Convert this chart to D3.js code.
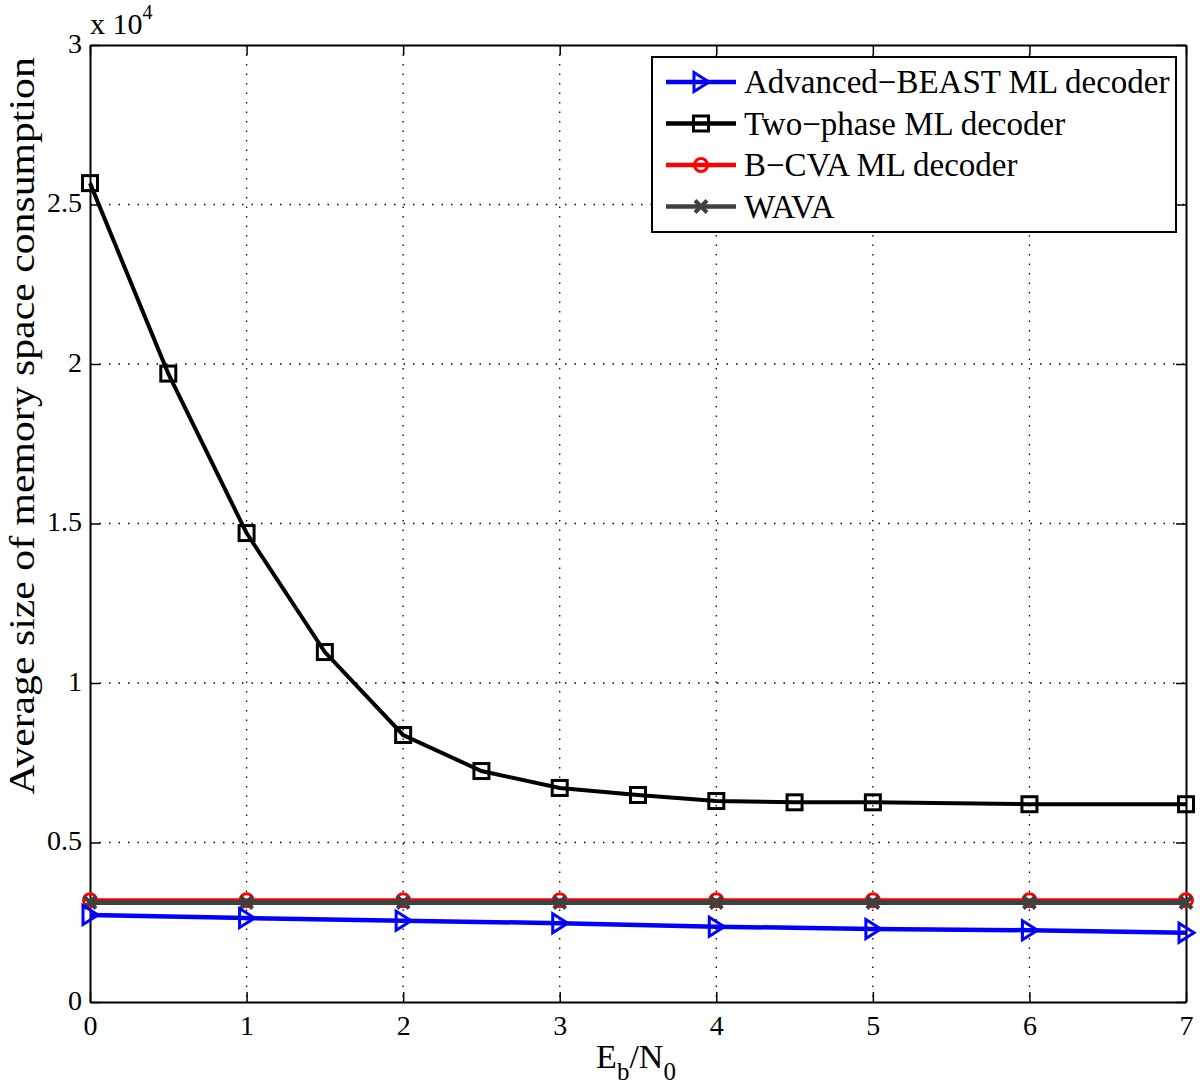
<!DOCTYPE html>
<html>
<head>
<meta charset="utf-8">
<script src="https://cdn.jsdelivr.net/npm/d3@7"></script>
<style>
  body { margin: 0; background: #fff; }
  svg { font-family: "Liberation Serif", "Times New Roman", serif; }
</style>
</head>
<body>
<svg id="chart" width="1200" height="1085"></svg>
<script>
// data
const twoPhaseX = [0, 0.5, 1, 1.5, 2, 2.5, 3, 3.5, 4, 4.5, 5, 6, 7];
const twoPhaseY = [25670, 19700, 14700, 10970, 8370, 7240, 6710, 6490, 6300, 6260, 6260, 6200, 6200];
const intX = [0, 1, 2, 3, 4, 5, 6, 7];
const beastY = [2730, 2630, 2550, 2470, 2360, 2290, 2250, 2170];
const bcvaY = [3190, 3190, 3190, 3190, 3190, 3190, 3190, 3190];
const wavaY = [3120, 3120, 3120, 3120, 3120, 3120, 3120, 3120];
const xTicks = [0, 1, 2, 3, 4, 5, 6, 7];
const yTicks = [0, 5000, 10000, 15000, 20000, 25000, 30000];
const yTickLabels = ["0", "0.5", "1", "1.5", "2", "2.5", "3"];

const margin = { top: 45, left: 90 };
const width = 1096, height = 957;

const svg = d3.select("#chart");
const g = svg.append("g").attr("transform", "translate(" + margin.left + "," + margin.top + ")");

const x = d3.scaleLinear().domain([0, 7]).range([0, width]);
const y = d3.scaleLinear().domain([0, 30000]).range([height, 0]);

// grid
g.append("g").selectAll("line").data(xTicks.slice(1, -1)).join("line")
    .attr("x1", d => x(d)).attr("x2", d => x(d)).attr("y1", 0).attr("y2", height)
    .attr("stroke", "#000").attr("stroke-width", 1.3).attr("stroke-dasharray", "1.5,8");
g.append("g").selectAll("line").data(yTicks.slice(1, -1)).join("line")
    .attr("y1", d => y(d)).attr("y2", d => y(d)).attr("x1", 0).attr("x2", width)
    .attr("stroke", "#000").attr("stroke-width", 1.3).attr("stroke-dasharray", "1.5,8");

// axes, MATLAB style box with inward ticks
const xAxis = g.append("g").attr("transform", "translate(0," + height + ")")
    .call(d3.axisBottom(x).tickValues(xTicks).tickSizeInner(-10).tickSizeOuter(0)
        .tickFormat(d3.format("d")));
const xTop = g.append("g")
    .call(d3.axisTop(x).tickValues(xTicks).tickSizeInner(-10).tickSizeOuter(0).tickFormat(""));
const yAxis = g.append("g")
    .call(d3.axisLeft(y).tickValues(yTicks).tickSizeInner(-10).tickSizeOuter(0)
        .tickFormat((d, i) => yTickLabels[i]));
const yRight = g.append("g").attr("transform", "translate(" + width + ",0)")
    .call(d3.axisRight(y).tickValues(yTicks).tickSizeInner(-10).tickSizeOuter(0).tickFormat(""));
[xAxis, xTop, yAxis, yRight].forEach(a => {
    a.selectAll("path").attr("stroke", "#000").attr("stroke-width", 2);
    a.selectAll("line").attr("stroke", "#000").attr("stroke-width", 1.5);
    a.selectAll("text").attr("font-size", 28).attr("fill", "#000")
        .attr("font-family", "Liberation Serif");
});
xAxis.selectAll("text").attr("y", 33).attr("dy", 0);
yAxis.selectAll("text").attr("x", -8).attr("dy", 7);

// series
const line = d3.line().x(d => x(d[0])).y(d => y(d[1]));
function drawSeries(xs, ys, color, w) {
    const pts = xs.map((v, i) => [v, ys[i]]);
    g.append("path").datum(pts).attr("d", line)
        .attr("fill", "none").attr("stroke", color).attr("stroke-width", w);
    return pts;
}

function marker(sel, type, color) {
    if (type === "square") {
        sel.append("rect").attr("x", -7.5).attr("y", -7.5).attr("width", 15).attr("height", 15)
            .attr("fill", "none").attr("stroke", color).attr("stroke-width", 3);
    } else if (type === "circle") {
        sel.append("circle").attr("r", 6.5).attr("fill", "none").attr("stroke", color).attr("stroke-width", 3);
    } else if (type === "tri") {
        sel.append("path").attr("d", "M-7,-9.5 L8,0 L-7,9.5 Z")
            .attr("fill", "none").attr("stroke", color).attr("stroke-width", 3);
    } else if (type === "x") {
        sel.append("path").attr("d", "M-6,-6 L6,6 M-6,6 L6,-6")
            .attr("fill", "none").attr("stroke", color).attr("stroke-width", 4);
    }
}

function drawMarkers(pts, type, color) {
    g.append("g").selectAll("g").data(pts).join("g")
        .attr("transform", d => "translate(" + x(d[0]) + "," + y(d[1]) + ")")
        .each(function () { marker(d3.select(this), type, color); });
}

const bcvaPts = drawSeries(intX, bcvaY, "#ff0000", 4);
drawMarkers(bcvaPts, "circle", "#ff0000");
const wavaPts = drawSeries(intX, wavaY, "#404040", 5);
drawMarkers(wavaPts, "x", "#404040");
const beastPts = drawSeries(intX, beastY, "#0000ff", 4.5);
drawMarkers(beastPts, "tri", "#0000ff");
const twoPts = drawSeries(twoPhaseX, twoPhaseY, "#000000", 4);
drawMarkers(twoPts, "square", "#000000");

// exponent label
const expo = svg.append("text").attr("x", 90).attr("y", 34).attr("font-size", 30);
expo.append("tspan").text("x 10");
expo.append("tspan").attr("dy", -15).attr("font-size", 20).text("4");

// axis labels
const xl = svg.append("text").attr("x", 636).attr("y", 1068).attr("text-anchor", "middle").attr("font-size", 34);
xl.append("tspan").text("E");
xl.append("tspan").attr("dy", 12).attr("font-size", 25).text("b");
xl.append("tspan").attr("dy", -12).text("/N");
xl.append("tspan").attr("dy", 12).attr("font-size", 25).text("0");

svg.append("text").attr("transform", "translate(34,426) rotate(-90) scale(1.16,1)")
    .attr("text-anchor", "middle").attr("font-size", 36)
    .text("Average size of memory space consumption");

// legend
const legendNames = ["Advanced\u2212BEAST ML decoder", "Two\u2212phase ML decoder", "B\u2212CVA ML decoder", "WAVA"];
const legendColors = ["#0000ff", "#000000", "#ff0000", "#404040"];
const legendMarkers = ["tri", "square", "circle", "x"];
const lg = svg.append("g").attr("transform", "translate(652,57)");
lg.append("rect").attr("width", 524).attr("height", 175)
    .attr("fill", "#fff").attr("stroke", "#000").attr("stroke-width", 2);
legendNames.forEach((name, i) => {
    const cy = 25 + i * 41.5;
    lg.append("line").attr("x1", 14).attr("x2", 84).attr("y1", cy).attr("y2", cy)
        .attr("stroke", legendColors[i]).attr("stroke-width", 4.5);
    const m = lg.append("g").attr("transform", "translate(49," + cy + ")");
    marker(m, legendMarkers[i], legendColors[i]);
    lg.append("text").attr("x", 92).attr("y", cy + 11).attr("font-size", 33).text(name);
});
</script>
</body>
</html>
